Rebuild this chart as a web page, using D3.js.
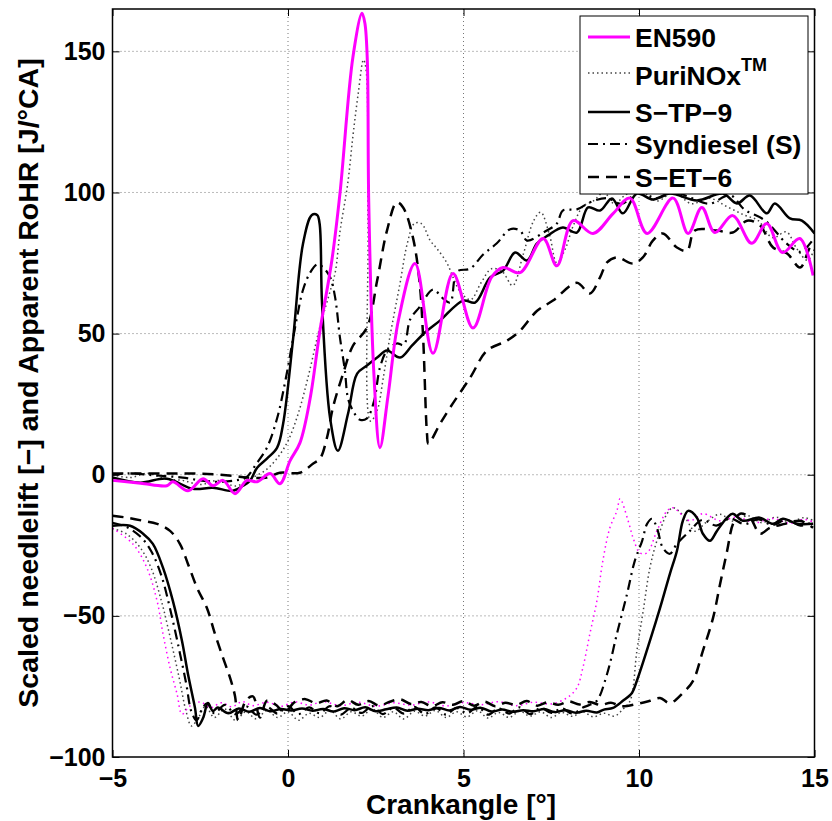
<!DOCTYPE html>
<html>
<head>
<meta charset="utf-8">
<script src="https://cdn.jsdelivr.net/npm/d3@7"></script>
<style>
  body { margin: 0; background: #fff; }
  svg { font-family: "Liberation Sans", Arial, sans-serif; font-weight: bold; }
</style>
</head>
<body>
<svg id="chart" width="832" height="821"></svg>
<script>
// ---- data ----
var xTicks = [-5, 0, 5, 10, 15];
var yTicks = [-100, -50, 0, 50, 100, 150];

// apparent rate of heat release [J/°CA]
var en590RoHR = [[-5,-2],[-4.2,-3],[-3.45,-3.9],[-3.28,-2.5],[-2.85,-5.7],[-2.42,-1.4],[-2.14,-3.9],[-1.85,-2],[-1.51,-6.7],[-1.17,-2],[-0.88,-2.5],[-0.51,0.4],[-0.23,-3.2],[0.06,5],[0.34,11.3],[0.63,27],[0.91,51],[1.25,76],[1.48,99.6],[1.85,148],[2.11,163.5],[2.19,160],[2.26,146.8],[2.3,97],[2.45,35],[2.62,9.6],[2.85,28],[3.15,55],[3.62,74.8],[4.13,43],[4.7,71.3],[5.27,52],[5.8,70],[6.13,73.4],[6.61,71.6],[7.27,83.7],[7.66,74],[8.12,90],[8.69,85.5],[9.26,92.5],[9.74,98],[10.23,85.5],[10.97,98],[11.4,85.5],[11.79,94.7],[12.16,85.8],[12.67,91.8],[13.21,82],[13.64,89],[14.09,78.7],[14.58,83.7],[14.96,70.6]];
var purinoxRoHR = [[-5,0],[-4.5,-1],[-4,0.5],[-3.5,-1.5],[-3,-2],[-2.5,-3.5],[-2,-2],[-1.5,-4],[-1.2,-2.5],[-1,-1],[-0.6,2],[-0.3,6],[0,12],[0.3,22],[0.6,36],[0.9,52],[1.2,65],[1.35,72],[1.48,86],[1.7,103],[1.85,120],[2.0,135],[2.15,147],[2.22,144],[2.28,90],[2.35,19],[2.54,22.7],[2.71,34],[2.9,48.6],[3.19,67.7],[3.4,82],[3.6,89],[3.8,89],[4.05,83],[4.25,80],[4.53,75],[4.7,70],[4.9,65],[5.2,62],[5.5,68],[5.8,73],[6.1,72],[6.4,67],[6.7,78],[7.0,90],[7.2,93],[7.45,85],[7.66,75],[7.9,80],[8.12,88],[8.4,95],[8.7,97],[9.0,100],[9.3,96],[9.6,99],[10,101],[10.5,97],[11,100],[11.5,96],[12,98],[12.5,95],[13,92],[13.4,90],[13.8,84],[14.2,86],[14.5,80],[14.8,76],[15,80]];
var stp9RoHR = [[-5,-1],[-4.22,-2.8],[-3.45,-1.4],[-2.71,-5],[-2.14,-4.6],[-1.57,-5.7],[-1.28,-3.9],[-1.08,-2.1],[-0.88,2.5],[-0.6,5.7],[-0.31,9.6],[-0.14,18],[0.14,47.5],[0.43,82],[0.68,92],[0.83,92],[0.9,89],[0.97,60.6],[1.2,20],[1.42,8.5],[1.71,21.6],[1.97,35.8],[2.25,38.7],[2.54,41.5],[2.82,44],[3.19,41.5],[3.53,45.7],[3.9,50.4],[4.33,54.6],[4.99,61.7],[5.33,61],[5.76,69.9],[6.13,72.3],[6.47,78.7],[6.81,75.9],[7.09,81.9],[7.41,84.8],[7.83,87.6],[8.23,85.8],[8.55,94.7],[8.89,93.6],[9.23,97.9],[9.54,92.6],[9.94,99.6],[10.4,97.5],[10.88,99.6],[11.65,97.2],[12.39,99.6],[12.79,96.1],[13.16,98.9],[13.64,92.6],[13.87,96.1],[14.3,90.8],[14.64,90],[15,85.5]];
var syndieselRoHR = [[-5,0],[-4.5,0.5],[-4,0],[-3.5,-0.5],[-3,-1],[-2.5,-2],[-2,-2.5],[-1.5,-2],[-1.2,-1],[-0.9,3.9],[-0.6,9.6],[-0.31,20],[-0.08,33],[0.26,56],[0.43,65.6],[0.63,71.6],[0.83,74.5],[0.97,73.8],[1.2,70],[1.34,63],[1.48,48.6],[1.62,37],[1.71,27],[1.85,22.7],[2.05,19.5],[2.25,20],[2.45,26],[2.62,38],[2.82,44],[3.1,46.5],[3.3,46],[3.48,55],[3.76,59.6],[4.13,65.6],[4.42,62.4],[4.62,61],[4.82,72],[5.19,73],[5.56,78],[5.95,82],[6.33,87],[6.61,86.5],[6.81,83],[7.3,86],[7.66,89],[7.83,93.6],[8.23,94],[8.6,96.5],[9.09,98],[9.5,96],[10,100],[10.5,98],[11,100],[11.5,98],[12,96],[12.6,99],[13.0,94],[13.6,90],[14.2,82],[14.6,79],[15,84]];
var set6RoHR = [[-5,0.4],[-3.45,0.4],[-2.51,0.4],[-1.57,-0.4],[-1.17,-1],[-0.6,-1],[-0.23,0.7],[0.34,0.7],[0.71,3.9],[0.91,5.7],[1.11,13.1],[1.28,23.8],[1.57,35.8],[1.85,45.7],[2.25,52.1],[2.54,68.8],[2.82,86.5],[3.1,96.5],[3.28,94.7],[3.56,84],[3.75,68],[3.85,48.6],[3.96,14.5],[4.0,11],[4.33,18],[4.62,23.8],[5.19,34.4],[5.67,44],[6.24,47.5],[6.61,51],[7.09,58],[7.55,61.7],[8.23,68],[8.6,64.2],[8.89,69.9],[9.09,75.2],[9.37,77],[9.83,74.8],[10.11,77],[10.4,83],[10.68,85.5],[11.08,80.5],[11.37,79.4],[11.59,86.5],[12.22,86.5],[12.67,85.8],[13.08,90],[13.45,88.3],[13.82,80.5],[14.22,78.4],[14.59,73.4],[14.87,80.5],[15,82]];

// scaled needle lift [-]
var en590Lift = [[-5,-19],[-4.42,-24.5],[-4.02,-33],[-3.73,-44.7],[-3.56,-56.4],[-3.36,-68.4],[-3.16,-77.7],[-3.02,-84.8],[-2.8,-82],[-2.5,-80.5],[-2.2,-82.5],[-1.9,-80.8],[-1.6,-82.2],[-1.3,-80.4],[-1,-81.8],[-0.6,-80.6],[-0.2,-82],[0.2,-80.5],[0.6,-81.6],[1,-80.4],[1.5,-81.8],[2,-80.6],[2.5,-82],[3,-80.8],[3.5,-81.6],[4,-80.5],[4.5,-81.9],[5,-80.7],[5.5,-81.5],[6,-80.4],[6.5,-81.8],[7,-80.6],[7.5,-81.2],[7.95,-79],[8.23,-75.5],[8.4,-68.4],[8.6,-56.4],[8.8,-44.7],[8.97,-30.5],[9.17,-18.8],[9.37,-12.8],[9.46,-8.5],[9.69,-16.3],[9.83,-22.3],[10.03,-27.7],[10.23,-27.7],[10.51,-19.9],[10.8,-12.8],[10.97,-11.7],[11.45,-16.3],[11.82,-13.8],[12.3,-16.3],[12.8,-15],[13.3,-17],[13.8,-15.5],[14.3,-17.2],[14.7,-15.8],[15,-17]];
var purinoxLift = [[-5,-19],[-4.6,-21],[-4.2,-26],[-3.9,-33],[-3.6,-45],[-3.35,-58],[-3.1,-72],[-2.9,-84],[-2.75,-89],[-2.55,-86],[-2.35,-82],[-2.1,-86],[-1.8,-83],[-1.5,-87],[-1.2,-84],[-0.9,-86.5],[-0.6,-83.5],[-0.3,-86],[0,-84],[0.3,-87],[0.6,-84.5],[0.9,-86],[1.2,-83.5],[1.5,-86.5],[1.8,-84],[2.1,-85.5],[2.4,-83],[2.7,-86],[3,-84],[3.3,-86.5],[3.6,-83.8],[3.9,-85.5],[4.2,-83.5],[4.5,-86],[4.8,-84],[5.1,-85.8],[5.4,-83.6],[5.7,-86.2],[6,-84.2],[6.3,-86],[6.6,-83.8],[6.9,-85.5],[7.2,-84],[7.5,-86],[7.8,-84.2],[8.1,-85.6],[8.4,-84],[8.7,-85.8],[9,-84.5],[9.3,-85.5],[9.55,-83],[9.75,-80],[9.94,-62.4],[10.12,-48.2],[10.31,-33],[10.51,-23.4],[10.8,-13.8],[10.97,-11.7],[11.3,-15],[11.6,-20],[11.9,-17],[12.3,-14],[12.7,-16.5],[13.1,-14.5],[13.5,-17],[13.9,-15],[14.3,-16.8],[14.7,-15.2],[15,-16.5]];
var stp9Lift = [[-5,-18.1],[-4.5,-18.1],[-4.13,-20.9],[-3.85,-24.5],[-3.56,-33],[-3.28,-44.7],[-3.02,-58.9],[-2.85,-70.6],[-2.65,-82.6],[-2.56,-89],[-2.42,-86.2],[-2.28,-80.9],[-2.14,-83.7],[-2.0,-82.5],[-1.7,-84.5],[-1.4,-82.8],[-1.1,-84],[-0.8,-82.6],[-0.5,-83.8],[-0.2,-83],[0.1,-83.5],[0.4,-82.8],[0.7,-83.6],[1.0,-83],[1.3,-83.9],[1.6,-82.7],[1.9,-83.4],[2.2,-82.4],[2.5,-83.8],[2.8,-83.1],[3.1,-82.5],[3.4,-83.6],[3.7,-82.9],[4.0,-83.4],[4.3,-82.6],[4.6,-83.5],[4.9,-82.3],[5.2,-83.3],[5.5,-82.6],[5.8,-83.9],[6.1,-83.2],[6.4,-84],[6.7,-83.4],[7.0,-83.8],[7.3,-83],[7.6,-84.1],[7.9,-83.4],[8.2,-84.3],[8.5,-83.6],[8.8,-84.2],[9.0,-83.2],[9.26,-82.6],[9.54,-80.1],[9.8,-77.3],[9.94,-73],[10.31,-58.9],[10.6,-47.2],[10.88,-35.1],[11.08,-27],[11.25,-16.3],[11.4,-12.8],[11.65,-15.2],[11.82,-20.9],[12.02,-23.4],[12.22,-19.9],[12.51,-15.2],[12.67,-13.8],[12.96,-16.3],[13.44,-15.2],[13.82,-17.4],[14.1,-15.6],[14.5,-17.4],[14.96,-17.4]];
var syndieselLift = [[-5,-17],[-4.6,-18.5],[-4.2,-22],[-3.9,-27],[-3.6,-36],[-3.35,-48],[-3.1,-62],[-2.9,-74],[-2.75,-84],[-2.6,-87],[-2.45,-83],[-2.3,-81],[-2.1,-84.5],[-1.8,-81.5],[-1.5,-84.8],[-1.2,-82],[-0.9,-85],[-0.6,-82.2],[-0.3,-84.6],[0,-82],[0.3,-84.8],[0.6,-82.4],[0.9,-84.5],[1.2,-82],[1.5,-85],[1.8,-82.6],[2.1,-84.4],[2.4,-82],[2.7,-84.8],[3,-82.5],[3.3,-84.6],[3.6,-82.2],[3.9,-84.8],[4.2,-82.4],[4.5,-85],[4.8,-82.6],[5.1,-84.5],[5.4,-82.2],[5.7,-85],[6,-82.8],[6.3,-84.6],[6.6,-82.4],[6.9,-84.8],[7.2,-82.6],[7.5,-84.4],[7.8,-82.8],[8.1,-84.6],[8.4,-82.5],[8.6,-81.5],[8.8,-80.1],[9.09,-70.6],[9.37,-56.4],[9.66,-42.2],[9.88,-30.5],[10.09,-23.4],[10.23,-17.4],[10.37,-15.6],[10.51,-18.8],[10.68,-25.9],[10.88,-28],[11.08,-24.5],[11.45,-19.9],[11.8,-16],[12.2,-18],[12.6,-15.5],[13,-17.5],[13.4,-15.8],[13.8,-17.8],[14.2,-16],[14.6,-18],[15,-16.5]];
var set6Lift = [[-5,-14.5],[-4.59,-15.2],[-4.13,-16.3],[-3.73,-17.4],[-3.36,-19.9],[-3.08,-24.5],[-2.85,-31.6],[-2.59,-40.1],[-2.31,-47.2],[-2.08,-56.4],[-1.85,-64.9],[-1.65,-72],[-1.51,-78.4],[-1.42,-87],[-1.2,-80],[-1.0,-78.5],[-0.8,-86],[-0.6,-80],[-0.35,-81.5],[-0.1,-84],[0.2,-80.5],[0.5,-79.5],[0.8,-81],[1.1,-80],[1.4,-82],[1.7,-79.8],[2.0,-81.5],[2.3,-80.2],[2.6,-81.8],[2.9,-80.4],[3.2,-79.6],[3.5,-81.2],[3.8,-80.5],[4.1,-82],[4.4,-80.6],[4.7,-81.5],[5.0,-80.2],[5.3,-81.8],[5.6,-80.4],[5.9,-82],[6.2,-80.8],[6.5,-81.6],[6.8,-80.2],[7.1,-81.8],[7.4,-80.6],[7.7,-81.5],[8.0,-80.3],[8.3,-81.4],[8.6,-80.5],[8.9,-81.6],[9.2,-80.8],[9.5,-82],[9.94,-81.2],[10.31,-80.1],[10.6,-79.1],[10.88,-80.9],[11.25,-77.3],[11.54,-73],[11.82,-62.4],[12.11,-50.7],[12.31,-38.7],[12.51,-27],[12.68,-17.4],[12.88,-13.8],[13.16,-15.2],[13.45,-20.9],[13.73,-18.8],[14.16,-17.4],[14.59,-16.3],[14.96,-18.8]];

// ---- layout ----
var svg = d3.select('#chart');
var mLeft = 112.5, mRight = 814.5, mTop = 9, mBottom = 757;
var x = d3.scaleLinear().domain([-5, 15]).range([mLeft, mRight]);
var y = d3.scaleLinear().domain([-100, 165]).range([mBottom, mTop]);

svg.append('clipPath').attr('id', 'clip')
  .append('rect').attr('x', mLeft).attr('y', mTop).attr('width', mRight - mLeft).attr('height', mBottom - mTop);

// grid
var grid = svg.append('g').attr('class', 'grid');
grid.selectAll('line.gx').data(xTicks.slice(1, -1)).enter().append('line')
  .attr('x1', function (d) { return x(d); }).attr('x2', function (d) { return x(d); })
  .attr('y1', mTop).attr('y2', mBottom);
grid.selectAll('line.gy').data(yTicks.slice(1)).enter().append('line')
  .attr('x1', mLeft).attr('x2', mRight)
  .attr('y1', function (d) { return y(d); }).attr('y2', function (d) { return y(d); });
grid.selectAll('line').style('stroke', '#777').style('stroke-width', 1).style('stroke-dasharray', '1 3');

var line = d3.line()
  .x(function (d) { return x(d[0]); })
  .y(function (d) { return y(d[1]); })
  .curve(d3.curveCatmullRom.alpha(0.5));

var styles = {
  en590: { stroke: '#ff00ff', width: 3, dash: null },
  en590lift: { stroke: '#ff00ff', width: 1.5, dash: '1.5 3.5' },
  purinox: { stroke: '#444', width: 1.5, dash: '1.5 3' },
  stp9: { stroke: '#000', width: 2.5, dash: null },
  syndiesel: { stroke: '#000', width: 2.2, dash: '10 5 2 5' },
  set6: { stroke: '#000', width: 2.5, dash: '11 7' }
};

var series = [
  [purinoxLift, styles.purinox], [en590Lift, styles.en590lift], [syndieselLift, styles.syndiesel],
  [set6Lift, styles.set6], [stp9Lift, styles.stp9],
  [purinoxRoHR, styles.purinox], [syndieselRoHR, styles.syndiesel], [set6RoHR, styles.set6],
  [stp9RoHR, styles.stp9], [en590RoHR, styles.en590]
];

var plot = svg.append('g').attr('clip-path', 'url(#clip)');
series.forEach(function (s) {
  plot.append('path').datum(s[0]).attr('d', line)
    .style('fill', 'none').style('stroke', s[1].stroke)
    .style('stroke-width', s[1].width)
    .style('stroke-dasharray', s[1].dash)
    .style('stroke-linejoin', 'round');
});

// axes (ticks inside, on all four sides)
svg.append('g').attr('class', 'axis').attr('transform', 'translate(0,' + mBottom + ')')
  .call(d3.axisBottom(x).tickValues(xTicks).tickSize(-7).tickPadding(12));
svg.append('g').attr('class', 'axis').attr('transform', 'translate(0,' + mTop + ')')
  .call(d3.axisTop(x).tickValues(xTicks).tickSize(-7).tickFormat(''));
svg.append('g').attr('class', 'axis').attr('transform', 'translate(' + mLeft + ',0)')
  .call(d3.axisLeft(y).tickValues(yTicks).tickSize(-7).tickPadding(7));
svg.append('g').attr('class', 'axis').attr('transform', 'translate(' + mRight + ',0)')
  .call(d3.axisRight(y).tickValues(yTicks).tickSize(-7).tickFormat(''));

d3.selectAll('.axis path').style('display', 'none');
d3.selectAll('.axis line').style('stroke', '#000').style('stroke-width', 1);
d3.selectAll('.axis text').style('font-family', '"Liberation Sans", Arial, sans-serif')
  .style('font-weight', 'bold').style('font-size', '25px').style('fill', '#000');

svg.append('rect').attr('x', mLeft).attr('y', mTop).attr('width', mRight - mLeft).attr('height', mBottom - mTop)
  .style('fill', 'none').style('stroke', '#000').style('stroke-width', 1.5);

// axis labels
svg.append('text').attr('x', 461).attr('y', 814).attr('text-anchor', 'middle')
  .style('font-size', '28px').text('Crankangle [°]');
svg.append('text').attr('transform', 'translate(38,' + (mTop + mBottom) / 2 + ') rotate(-90)')
  .attr('text-anchor', 'middle').style('font-size', '28.5px')
  .text('Scaled needlelift [\u2212] and Apparent RoHR [J/°CA]');

// legend
var legendItems = [
  { name: 'EN590', style: styles.en590, y: 37 },
  { name: 'PuriNOx', sup: 'TM', style: styles.purinox, y: 73 },
  { name: 'S\u2212TP\u22129', style: styles.stp9, y: 112 },
  { name: 'Syndiesel (S)', style: styles.syndiesel, y: 144 },
  { name: 'S\u2212ET\u22126', style: styles.set6, y: 177 }
];
var legend = svg.append('g');
legend.append('rect').attr('x', 580).attr('y', 16).attr('width', 228).attr('height', 178)
  .style('fill', '#fff').style('stroke', '#000').style('stroke-width', 1);
legendItems.forEach(function (d) {
  legend.append('line').attr('x1', 588).attr('x2', 630).attr('y1', d.y).attr('y2', d.y)
    .style('stroke', d.style.stroke).style('stroke-width', d.style.width)
    .style('stroke-dasharray', d.style.dash);
  var t = legend.append('text').attr('x', 635).attr('y', d.sup ? d.y + 12 : d.y)
    .attr('dy', d.sup ? 0 : '0.36em').style('font-size', '26.5px').text(d.name);
  if (d.sup) {
    t.append('tspan').attr('dy', -14).style('font-size', '18px').text(d.sup);
  }
});
</script>
</body>
</html>
